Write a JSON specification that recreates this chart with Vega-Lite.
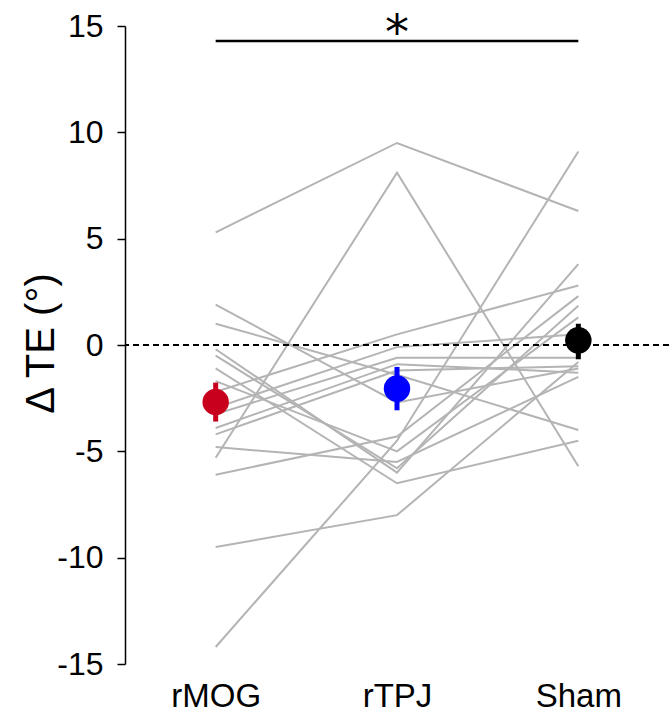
{
  "$schema": "https://vega.github.io/schema/vega-lite/v6.json",
  "autosize": {"type": "none"},
  "padding": {"left": 125, "top": 26, "right": 0, "bottom": 48},
  "width": 544,
  "height": 638,
  "background": "white",
  "config": {"view": {"stroke": null}, "font": "Liberation Sans"},
  "datasets": {
    "subjects": [
      {"subject": 1, "condition": "rMOG", "te": 5.3}, {"subject": 1, "condition": "rTPJ", "te": 9.5}, {"subject": 1, "condition": "Sham", "te": 6.3},
      {"subject": 2, "condition": "rMOG", "te": -5.3}, {"subject": 2, "condition": "rTPJ", "te": 8.1}, {"subject": 2, "condition": "Sham", "te": -5.7},
      {"subject": 3, "condition": "rMOG", "te": -14.2}, {"subject": 3, "condition": "rTPJ", "te": -4.5}, {"subject": 3, "condition": "Sham", "te": 9.1},
      {"subject": 4, "condition": "rMOG", "te": -9.5}, {"subject": 4, "condition": "rTPJ", "te": -8.0}, {"subject": 4, "condition": "Sham", "te": -0.8},
      {"subject": 5, "condition": "rMOG", "te": -6.1}, {"subject": 5, "condition": "rTPJ", "te": -4.3}, {"subject": 5, "condition": "Sham", "te": 2.3},
      {"subject": 6, "condition": "rMOG", "te": 1.9}, {"subject": 6, "condition": "rTPJ", "te": -2.7}, {"subject": 6, "condition": "Sham", "te": -1.1},
      {"subject": 7, "condition": "rMOG", "te": 1.0}, {"subject": 7, "condition": "rTPJ", "te": -1.4}, {"subject": 7, "condition": "Sham", "te": -4.0},
      {"subject": 8, "condition": "rMOG", "te": -0.2}, {"subject": 8, "condition": "rTPJ", "te": -6.0}, {"subject": 8, "condition": "Sham", "te": 3.8},
      {"subject": 9, "condition": "rMOG", "te": -0.5}, {"subject": 9, "condition": "rTPJ", "te": -5.8}, {"subject": 9, "condition": "Sham", "te": 1.85},
      {"subject": 10, "condition": "rMOG", "te": -1.1}, {"subject": 10, "condition": "rTPJ", "te": -6.5}, {"subject": 10, "condition": "Sham", "te": -4.5},
      {"subject": 11, "condition": "rMOG", "te": -1.7}, {"subject": 11, "condition": "rTPJ", "te": -5.0}, {"subject": 11, "condition": "Sham", "te": 1.3},
      {"subject": 12, "condition": "rMOG", "te": -2.2}, {"subject": 12, "condition": "rTPJ", "te": 0.5}, {"subject": 12, "condition": "Sham", "te": 2.8},
      {"subject": 13, "condition": "rMOG", "te": -2.95}, {"subject": 13, "condition": "rTPJ", "te": -0.1}, {"subject": 13, "condition": "Sham", "te": 0.5},
      {"subject": 14, "condition": "rMOG", "te": -3.25}, {"subject": 14, "condition": "rTPJ", "te": -0.6}, {"subject": 14, "condition": "Sham", "te": -0.6},
      {"subject": 15, "condition": "rMOG", "te": -3.9}, {"subject": 15, "condition": "rTPJ", "te": -0.9}, {"subject": 15, "condition": "Sham", "te": -1.3},
      {"subject": 16, "condition": "rMOG", "te": -4.2}, {"subject": 16, "condition": "rTPJ", "te": -1.2}, {"subject": 16, "condition": "Sham", "te": -1.0},
      {"subject": 17, "condition": "rMOG", "te": -4.8}, {"subject": 17, "condition": "rTPJ", "te": -5.5}, {"subject": 17, "condition": "Sham", "te": -1.5}
    ],
    "means": [
      {"condition": "rMOG", "mean": -2.68, "lo": -3.6, "hi": -1.77},
      {"condition": "rTPJ", "mean": -2.05, "lo": -3.07, "hi": -1.03},
      {"condition": "Sham", "mean": 0.22, "lo": -0.67, "hi": 1.0}
    ],
    "sig": [{"from": "rMOG", "to": "Sham", "mid": "rTPJ", "y": 14.3, "label": "*"}]
  },
  "encoding": {
    "x": {
      "field": "condition", "type": "nominal",
      "scale": {"type": "point", "domain": ["rMOG", "rTPJ", "Sham"], "padding": 0.5},
      "axis": {"title": null, "domain": false, "ticks": false, "labelAngle": 0, "labelFontSize": 33, "labelColor": "black", "labelPadding": 16, "labelBaseline": "top"}
    }
  },
  "layer": [
    {
      "data": {"name": "subjects"},
      "mark": {"type": "line", "color": "#b4b4b4", "strokeWidth": 2},
      "encoding": {
        "y": {
          "field": "te", "type": "quantitative",
          "scale": {"domain": [-15, 15], "nice": false, "zero": false},
          "axis": {
            "values": [-15, -10, -5, 0, 5, 10, 15],
            "labelExpr": "'' + datum.value",
            "grid": false, "domainColor": "black", "domainWidth": 1.5, "tickColor": "black", "tickWidth": 1.5, "tickSize": 8,
            "labelFontSize": 32, "labelColor": "black", "labelPadding": 14,
            "title": "Δ TE (°)", "titleFontSize": 40, "titleFontWeight": "normal", "titleColor": "black",
            "titleAngle": -90, "titleX": -72, "titleY": 317, "titleAlign": "center", "titleBaseline": "alphabetic"
          }
        },
        "detail": {"field": "subject", "type": "nominal"}
      }
    },
    {
      "data": {"values": [{"zero": 0}]},
      "mark": {"type": "rule", "color": "black", "strokeWidth": 2, "strokeDash": [6, 4]},
      "encoding": {"x": null, "y": {"field": "zero", "type": "quantitative"}}
    },
    {
      "data": {"name": "means"},
      "mark": {"type": "rule", "strokeWidth": 5},
      "encoding": {
        "y": {"field": "lo", "type": "quantitative"},
        "y2": {"field": "hi"},
        "color": {"field": "condition", "type": "nominal", "scale": {"domain": ["rMOG", "rTPJ", "Sham"], "range": ["#c8001e", "#0000ff", "#000000"]}, "legend": null}
      }
    },
    {
      "data": {"name": "means"},
      "mark": {"type": "point", "shape": "circle", "filled": true, "opacity": 1, "size": 700},
      "encoding": {
        "y": {"field": "mean", "type": "quantitative"},
        "color": {"field": "condition", "type": "nominal", "scale": {"domain": ["rMOG", "rTPJ", "Sham"], "range": ["#c8001e", "#0000ff", "#000000"]}, "legend": null}
      }
    },
    {
      "data": {"name": "sig"},
      "mark": {"type": "rule", "color": "black", "strokeWidth": 2.5},
      "encoding": {
        "x": {"field": "from", "type": "nominal"},
        "x2": {"field": "to"},
        "y": {"field": "y", "type": "quantitative"}
      }
    },
    {
      "data": {"name": "sig"},
      "mark": {"type": "text", "font": "DejaVu Sans", "fontSize": 48, "fontWeight": "normal", "baseline": "alphabetic", "align": "center", "color": "black", "dy": 8},
      "encoding": {
        "x": {"field": "mid", "type": "nominal"},
        "y": {"field": "y", "type": "quantitative"},
        "text": {"field": "label"}
      }
    }
  ],
  "resolve": {"scale": {"color": "shared"}}
}
